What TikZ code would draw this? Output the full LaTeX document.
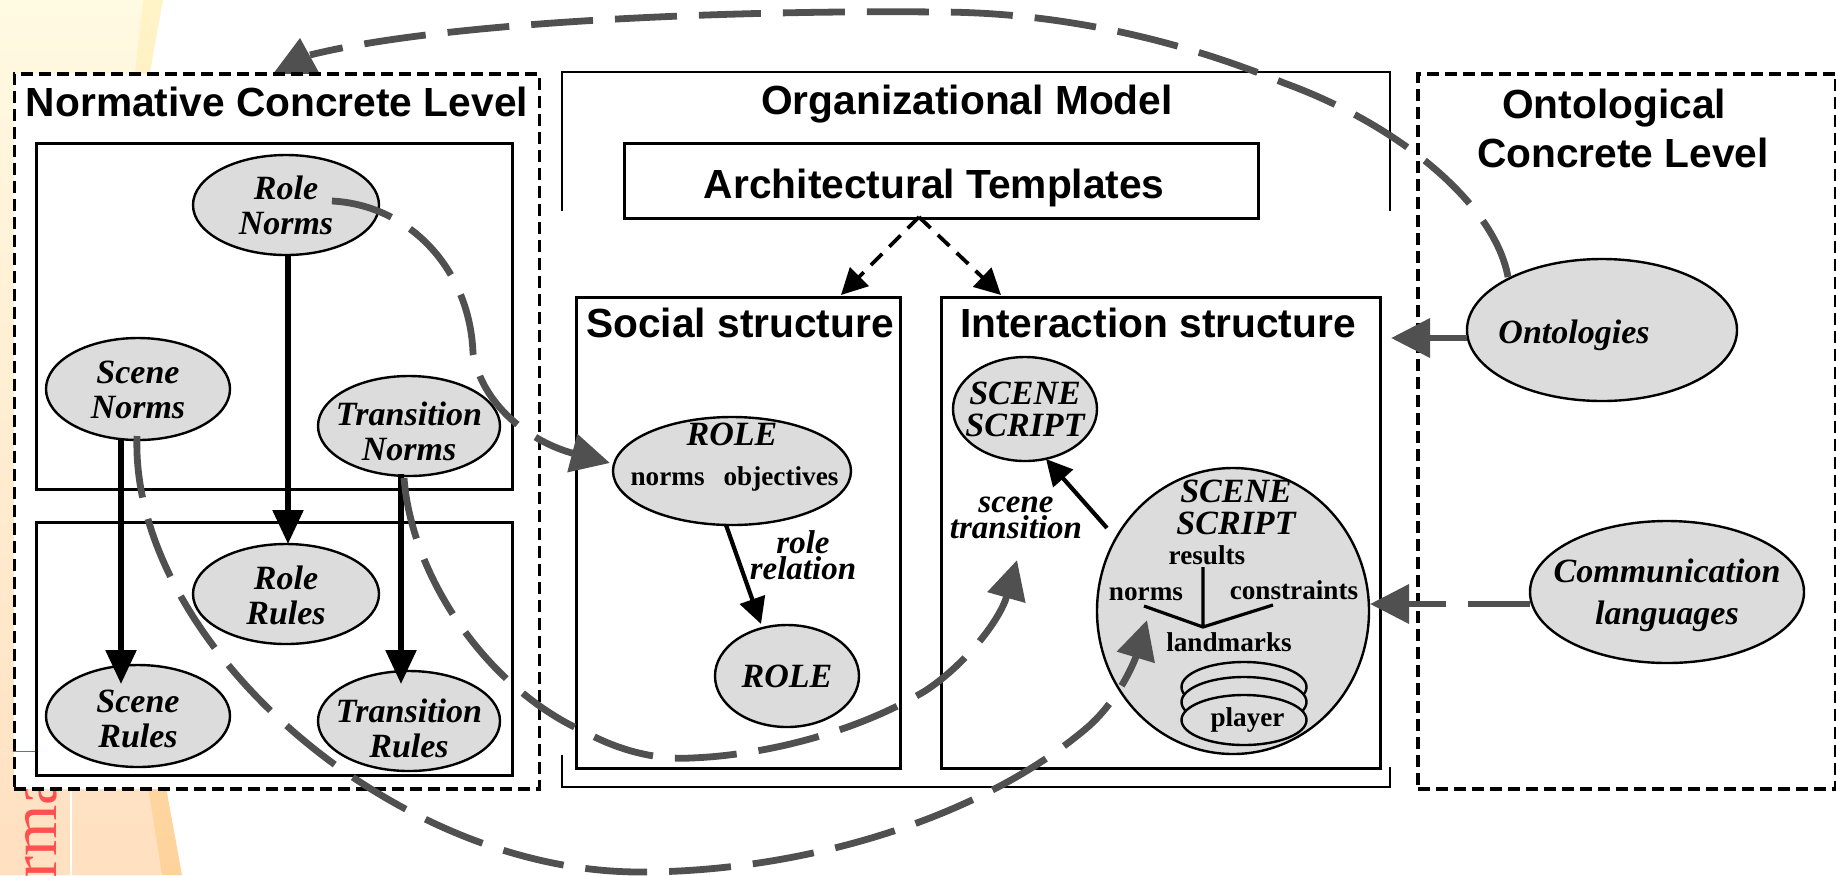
\documentclass[tikz,border=0pt]{standalone}
\usepackage{fontspec}
\setmainfont{Liberation Serif}
\newfontfamily\arialbf{Liberation Sans}
\usetikzlibrary{arrows.meta,shapes.geometric}
\definecolor{creamtop}{RGB}{255,250,226}
\definecolor{peachbot}{RGB}{255,224,192}
\definecolor{bandtop}{RGB}{255,244,200}
\definecolor{bandbot}{RGB}{255,210,155}
\definecolor{fillgrey}{RGB}{220,220,220}
\definecolor{arcgrey}{RGB}{80,80,80}
\definecolor{redtxt}{RGB}{255,80,80}
% text centred in an oval without letting it widen the oval
\newcommand\ot[2]{\smash{\makebox[0pt]{\raisebox{\dimexpr#1-.25em-2.4pt\relax}{\begin{tabular}{@{}c@{}}#2\end{tabular}}}}}
\tikzset{
  x=0.5pt,y=-0.5pt,
  dashframe/.style={draw=black,line width=1.9pt,dash pattern=on 6pt off 3pt,fill=white,rectangle,inner sep=0pt,anchor=north west},
  plainbox/.style={draw=black,line width=1.3pt,fill=white,inner sep=0pt,rectangle,anchor=north west},
  oval/.style={ellipse,draw=black,line width=1.2pt,fill=fillgrey,inner sep=0pt,
     font=\fontsize{17}{17.5}\selectfont\bfseries\itshape},
  title/.style={font=\fontsize{20.35}{24.5}\selectfont\arialbf\bfseries,align=center,inner sep=0pt},
  small/.style={font=\fontsize{13.6}{14}\selectfont\bfseries,inner sep=0pt},
  ital/.style={font=\fontsize{16.5}{13}\selectfont\bfseries\itshape,align=center,inner sep=0pt},
  thickarrow/.style={line width=2.8pt,draw=black,-{Triangle[length=17pt,width=15pt]}},
  thinarrow/.style={line width=2.1pt,draw=black,-{Triangle[length=13pt,width=13pt]}},
  tpldash/.style={line width=1.9pt,draw=black,dash pattern=on 8pt off 5pt,-{Triangle[length=13pt,width=13pt]}},
  arc/.style={line width=3.4pt,draw=arcgrey,dash pattern=on 31pt off 11pt},
  arctip/.style={arc,-{Triangle[length=19.5pt,width=19pt,fill=arcgrey]}},
  disc/.style={ellipse,draw=black,line width=1.2pt,fill=fillgrey,minimum width=62.5pt,minimum height=25pt,inner sep=0pt},
}
\begin{document}
\begin{tikzpicture}
\useasboundingbox (0,0) rectangle (1836,875);
\clip (0,0) rectangle (1836,875);
% background slide fragments
\shade[top color=bandtop,bottom color=bandbot] (0,0) -- (163,0) -- (150,72) -- (150,400) -- (166,787) -- (182,875) -- (0,875) -- cycle;
\shade[top color=creamtop,bottom color=peachbot] (0,0) -- (143,0) -- (135,72) -- (135,400) -- (148,787) -- (162,875) -- (0,875) -- cycle;
\node[rotate=90,anchor=base west,text=redtxt,inner sep=0pt,font=\fontsize{33}{33}\selectfont] (bgword) at (56,879) {rma};
\draw[white,line width=1.2pt] (71,787) -- (71,875);
% arrowhead of the long arc, partly hidden by the frame
\fill[arcgrey] (270,78) -- (300,38) -- (322,78) -- cycle;
% frames
\node[dashframe,minimum width=262.5pt,minimum height=357.5pt] (normframe) at (12.5,72) {};
\node[dashframe,minimum width=209pt,minimum height=357.5pt] (ontoframe) at (1416,72) {};
\draw[red!80,line width=.4pt] (13,751) -- (70,751);
\draw[black,line width=1.4pt] (562,211) -- (562,72) -- (1390,72) -- (1390,211);
\draw[black,line width=1.4pt] (562,755) -- (562,787) -- (1390,787) -- (1390,767);
% titles
\node[title] (t1) at (277,102) {Normative Concrete Level};
\node[title] (t2) at (967,104) {Organizational Model};
\node[title] (t3) at (1623,128) {Ontological\hspace*{9pt}\\Concrete Level};
% normative boxes
\node[plainbox,minimum width=238pt,minimum height=173pt] (upper) at (35,142) {};
\node[plainbox,minimum width=238pt,minimum height=126.5pt] (lower) at (35,521) {};
% templates and structures
\node[plainbox,minimum width=317pt,minimum height=37.5pt,font=\fontsize{20.35}{24}\selectfont\arialbf\bfseries] (arch) at (623,142) {\smash{\raisebox{-9pt}{Architectural Templates}}\hspace*{7pt}};
\node[plainbox,minimum width=162pt,minimum height=235.5pt] (social) at (575,296) {};
\node[plainbox,minimum width=219.5pt,minimum height=235.5pt] (inter) at (940,296) {};
\node[title] (t4) at (740,323) {Social structure};
\node[title] (t5) at (1158,323) {Interaction structure};
\coordinate (split) at (919,217);
\coordinate (socialtop) at (841,295);
\coordinate (intertop) at (1001,295);
\draw[tpldash] (split) -- (socialtop);
\draw[tpldash] (split) -- (intertop);
% norm ovals
\node[oval,minimum width=93pt,minimum height=50pt] (rn) at (286,205) {\ot{0pt}{Role\\Norms}};
\node[oval,minimum width=92pt,minimum height=51pt] (sn) at (138,389) {\ot{0pt}{Scene\\Norms}};
\node[oval,minimum width=91pt,minimum height=50pt] (tn) at (409,426) {\ot{-2.6pt}{Transition\\Norms}};
\node[oval,minimum width=93pt,minimum height=50pt] (rr) at (286,594) {\ot{-.5pt}{Role\\Rules}};
\node[oval,minimum width=92pt,minimum height=51pt] (sr) at (138,716) {\ot{-1pt}{Scene\\Rules}};
\node[oval,minimum width=91pt,minimum height=50pt] (tr) at (409,721) {\ot{-3.5pt}{Transition\\Rules}};
\coordinate (a1s) at (288,255);
\coordinate (a1e) at (288,544);
\coordinate (a2s) at (121,440);
\coordinate (a2e) at (121,684);
\coordinate (a3s) at (401,474);
\coordinate (a3e) at (401,684);
\draw[thickarrow] (a1s) -- (a1e);
\draw[thickarrow] (a2s) -- (a2e);
\draw[thickarrow] (a3s) -- (a3e);
% roles
\node[oval,minimum width=119pt,minimum height=54pt] (role) at (732,471) {\ot{8.5pt}{ROLE\\[2.5pt]{\hspace*{2.5pt}\fontsize{13.6}{14}\selectfont\upshape norms\hspace{9.5pt}objectives}}};
\node[oval,minimum width=72pt,minimum height=51pt] (role2) at (787,676) {\ot{0pt}{ROLE}};
\coordinate (r1) at (726,525);
\coordinate (r2) at (761,624);
\draw[thinarrow] (r1) -- (r2);
\node[ital] (rrel) at (803,555) {role\\relation};
% scenes
\node[oval,minimum width=72pt,minimum height=52pt] (ss) at (1025,409) {\ot{0pt}{SCENE\\[-1.7pt]SCRIPT}};
\node[ellipse,draw=black,line width=1.2pt,fill=fillgrey,minimum width=136pt,minimum height=143pt,inner sep=0pt] (big) at (1233,611) {};
\coordinate (s1) at (1107,528);
\coordinate (s2) at (1046,459);
\draw[thinarrow] (s1) -- (s2);
\node[ital] (stran) at (1016,518) {scene\\transition};
\node[oval,draw=none,fill=none,minimum width=0pt,minimum height=0pt] (bigname) at (1236,507) {\ot{0pt}{SCENE\\[-1.7pt]SCRIPT}};
\node[small] (results) at (1207,555) {results};
\node[small] (norms) at (1146,594) {norms};
\node[small] (constraints) at (1294,590) {constraints};
\node[small] (landmarks) at (1229,642) {landmarks};
\coordinate (j) at (1203,627);
\coordinate (jt) at (1203,567);
\coordinate (jl) at (1144,606);
\coordinate (jr) at (1273,605);
\draw[black,line width=1.6pt] (jt) -- (j) (jl) -- (j) -- (jr);
\node[disc] (d1) at (1244,687) {};
\node[disc] (d2) at (1244,702) {};
\node[disc,font=\fontsize{13.6}{14}\selectfont\bfseries] (d3) at (1244,720) {\smash{\raisebox{-3pt}{\makebox[0pt]{\hspace*{3.5pt}player}}}};
% right ovals
\node[oval,minimum width=135pt,minimum height=71pt] (onto) at (1602,330) {\ot{-1pt}{Ontologies\hspace*{28pt}}};
\node[oval,minimum width=137pt,minimum height=71pt] (comm) at (1667,592) {\ot{0pt}{Communication\\[3.5pt]languages}};
% grey arcs
\coordinate (ontoIn) at (1391,338);
\coordinate (ontoOut) at (1467,338);
\coordinate (commIn) at (1370,604);
\coordinate (commOut) at (1530,604);
\coordinate (normTop) at (310,55);
\coordinate (startT) at (1508,277);
\coordinate (t1m) at (1284,83);
\coordinate (t2m) at (937,12);
\draw[arc] (startT) .. controls (1495,205) and (1400,125) .. (t1m) .. controls (1180,40) and (1060,12) .. (t2m) .. controls (750,10) and (450,20) .. (normTop);
\coordinate (startR) at (332,201);
\coordinate (r1m) at (473,353);
\coordinate (roleIn) at (610,463);
\draw[arctip] (startR) .. controls (410,205) and (470,270) .. (r1m) .. controls (482,405) and (530,442) .. (roleIn);
\coordinate (startN) at (404,478);
\coordinate (n1) at (585,732);
\coordinate (n2) at (691,758);
\coordinate (n3) at (925,691);
\coordinate (transIn) at (1017,560);
\draw[arctip] (startN) .. controls (412,580) and (490,690) .. (n1) .. controls (618,750) and (655,760) .. (n2) .. controls (770,755) and (860,730) .. (n3) .. controls (965,665) and (1000,620) .. (transIn);
\coordinate (startS) at (137,436);
\coordinate (s3) at (640,872);
\coordinate (s4) at (1089,726);
\coordinate (sceneIn) at (1147,620);
\draw[arctip] (startS) .. controls (130,640) and (390,872) .. (s3) .. controls (800,872) and (980,820) .. (s4) .. controls (1120,698) and (1135,660) .. (sceneIn);
\draw[arctip] (ontoOut) -- (ontoIn);
\draw[arctip] (commOut) -- (commIn);
\end{tikzpicture}
\end{document}
